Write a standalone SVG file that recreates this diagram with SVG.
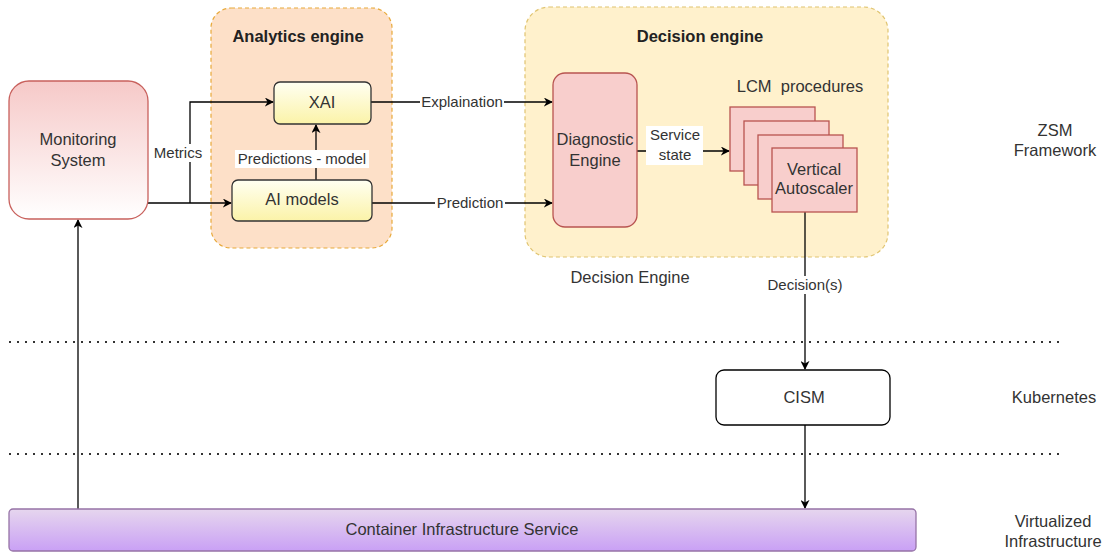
<svg xmlns="http://www.w3.org/2000/svg" width="1107" height="552" viewBox="0 0 1107 552">
  <defs>
    <linearGradient id="gMon" x1="0" y1="0" x2="0" y2="1">
      <stop offset="0" stop-color="#f6c9c8"/>
      <stop offset="1" stop-color="#ffffff"/>
    </linearGradient>
    <linearGradient id="gYel" x1="0" y1="0" x2="0" y2="1">
      <stop offset="0" stop-color="#fffff2"/>
      <stop offset="1" stop-color="#fbf3a8"/>
    </linearGradient>
    <linearGradient id="gCis" x1="0" y1="0" x2="0" y2="1">
      <stop offset="0" stop-color="#e6d6ee"/>
      <stop offset="1" stop-color="#c9a0f5"/>
    </linearGradient>
    <marker id="arr" viewBox="0 0 10 10" refX="9" refY="5" markerWidth="9" markerHeight="9" markerUnits="userSpaceOnUse" orient="auto">
      <path d="M0,0 L10,5 L0,10 L3,5 Z" fill="#000"/>
    </marker>
  </defs>
  <style>
    text { font-family: "Liberation Sans", Arial, sans-serif; fill: #333; }
    .lbl { font-size: 16.5px; text-anchor: middle; }
    .sm { font-size: 15px; text-anchor: middle; }
    .bold { font-size: 16.5px; font-weight: bold; text-anchor: middle; fill: #222; }
    .edge { stroke: #000; stroke-width: 1.3; fill: none; }
    .pink { fill: #f8cecc; stroke: #b85450; stroke-width: 1.3; }
    .dots { stroke: #333; stroke-width: 2.2; stroke-dasharray: 2 6; }
  </style>
  <rect width="1107" height="552" fill="#ffffff"/>

  <!-- layer separators -->
  <line class="dots" x1="9" y1="342" x2="1060" y2="342"/>
  <line class="dots" x1="9" y1="454" x2="1060" y2="454"/>

  <!-- containers -->
  <g id="analytics-engine">
    <rect x="211" y="8" width="181" height="240" rx="20" fill="#fde0c8" stroke="#e8a93a" stroke-width="1.2" stroke-dasharray="4 3"/>
    <text class="bold" x="298" y="42">Analytics engine</text>
  </g>
  <g id="decision-engine">
    <rect x="525" y="7" width="363" height="250" rx="24" fill="#fff1cc" stroke="#e0c470" stroke-width="1.2" stroke-dasharray="4 3"/>
    <text class="bold" x="700" y="42">Decision engine</text>
  </g>

  <!-- connectors -->
  <g id="connectors">
    <path class="edge" d="M148,203 L231,203" marker-end="url(#arr)"/>
    <path class="edge" d="M190,203 L190,102 L273,102" marker-end="url(#arr)"/>
    <path class="edge" d="M316,180 L316,125" marker-end="url(#arr)"/>
    <path class="edge" d="M371,102 L552,102" marker-end="url(#arr)"/>
    <path class="edge" d="M372,203 L552,203" marker-end="url(#arr)"/>
    <path class="edge" d="M637,151 L729,151" marker-end="url(#arr)"/>
    <path class="edge" d="M805,211 L805,369" marker-end="url(#arr)"/>
    <path class="edge" d="M805,425 L805,508" marker-end="url(#arr)"/>
    <path class="edge" d="M78,509 L78,220" marker-end="url(#arr)"/>

    <rect x="151" y="144" width="54" height="18" fill="#ffffff"/>
    <text class="sm" x="178" y="158">Metrics</text>
    <rect x="235" y="150" width="134" height="18" fill="#ffffff"/>
    <text class="sm" x="302" y="164">Predictions - model</text>
    <rect x="420" y="94" width="84" height="16" fill="#ffffff"/>
    <text class="sm" x="462" y="107">Explaination</text>
    <rect x="435" y="195" width="70" height="16" fill="#ffffff"/>
    <text class="sm" x="470" y="208">Prediction</text>
    <rect x="646" y="126" width="57" height="39" fill="#ffffff"/>
    <text class="sm" x="675" y="140">Service</text>
    <text class="sm" x="675" y="160">state</text>
    <rect x="762" y="276" width="86" height="18" fill="#ffffff"/>
    <text class="sm" x="805" y="290">Decision(s)</text>
  </g>

  <!-- nodes -->
  <g id="monitoring-system">
    <rect x="9" y="81" width="139" height="138" rx="20" fill="url(#gMon)" stroke="#c8605c" stroke-width="1.3"/>
    <text class="lbl" x="78" y="145">Monitoring</text>
    <text class="lbl" x="78" y="166">System</text>
  </g>
  <g id="xai">
    <rect x="274" y="82" width="97" height="42" rx="6" fill="url(#gYel)" stroke="#333" stroke-width="1.3"/>
    <text class="lbl" x="322" y="108">XAI</text>
  </g>
  <g id="ai-models">
    <rect x="232" y="180" width="140" height="41" rx="6" fill="url(#gYel)" stroke="#333" stroke-width="1.3"/>
    <text class="lbl" x="302" y="205">AI models</text>
  </g>
  <g id="diagnostic-engine">
    <rect class="pink" x="553" y="73" width="84" height="154" rx="12"/>
    <text class="lbl" x="595" y="145">Diagnostic</text>
    <text class="lbl" x="595" y="166">Engine</text>
  </g>
  <g id="lcm-procedures">
    <text class="lbl" x="800" y="92" xml:space="preserve">LCM  procedures</text>
    <rect class="pink" x="730" y="107" width="85" height="64"/>
    <rect class="pink" x="744" y="121" width="85" height="64"/>
    <rect class="pink" x="758" y="135" width="85" height="64"/>
    <rect class="pink" x="772" y="148" width="85" height="64"/>
    <text class="lbl" x="814" y="175">Vertical</text>
    <text class="lbl" x="814" y="194">Autoscaler</text>
  </g>
  <g id="cism">
    <rect x="716" y="370" width="174" height="55" rx="8" fill="#ffffff" stroke="#000" stroke-width="1.3"/>
    <text class="lbl" x="804" y="403">CISM</text>
  </g>
  <g id="container-infrastructure-service">
    <rect x="9" y="509" width="907" height="42" rx="4" fill="url(#gCis)" stroke="#9673a6" stroke-width="1.3"/>
    <text class="lbl" x="462" y="535">Container Infrastructure Service</text>
  </g>

  <!-- free labels -->
  <text class="lbl" x="630" y="283">Decision Engine</text>
  <text class="lbl" x="1055" y="136">ZSM</text>
  <text class="lbl" x="1055" y="156">Framework</text>
  <text class="lbl" x="1054" y="403">Kubernetes</text>
  <text class="lbl" x="1053" y="527">Virtualized</text>
  <text class="lbl" x="1053" y="547">Infrastructure</text>
</svg>
